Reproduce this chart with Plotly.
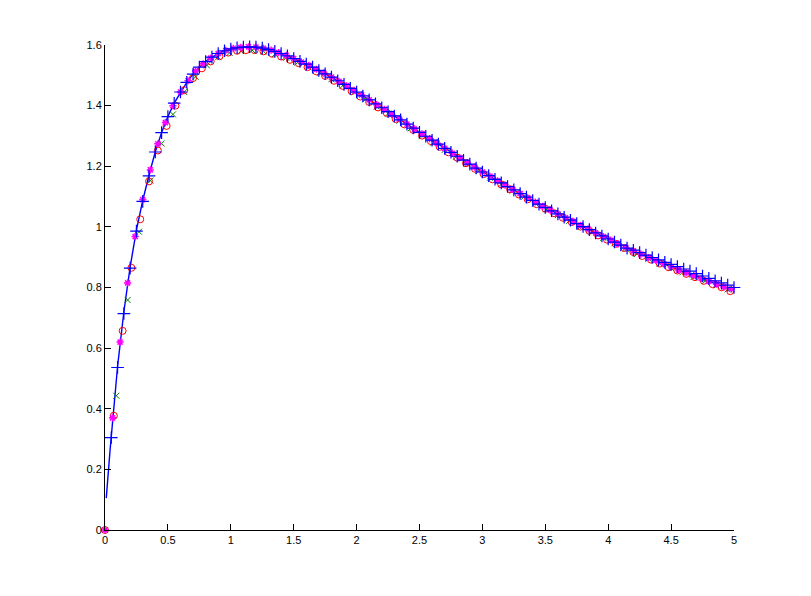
import plotly.graph_objects as go

# ---- x grids ----
blue_x = [0.05, 0.10, 0.15, 0.20, 0.25, 0.30, 0.35, 0.40, 0.45, 0.50,
          0.55, 0.60, 0.65, 0.70, 0.75, 0.80, 0.85, 0.90, 0.95, 1.00,
          1.05, 1.10, 1.15, 1.20, 1.25, 1.30, 1.35, 1.40, 1.45, 1.50,
          1.55, 1.60, 1.65, 1.70, 1.75, 1.80, 1.85, 1.90, 1.95, 2.00,
          2.05, 2.10, 2.15, 2.20, 2.25, 2.30, 2.35, 2.40, 2.45, 2.50,
          2.55, 2.60, 2.65, 2.70, 2.75, 2.80, 2.85, 2.90, 2.95, 3.00,
          3.05, 3.10, 3.15, 3.20, 3.25, 3.30, 3.35, 3.40, 3.45, 3.50,
          3.55, 3.60, 3.65, 3.70, 3.75, 3.80, 3.85, 3.90, 3.95, 4.00,
          4.05, 4.10, 4.15, 4.20, 4.25, 4.30, 4.35, 4.40, 4.45, 4.50,
          4.55, 4.60, 4.65, 4.70, 4.75, 4.80, 4.85, 4.90, 4.95, 5.00]

line_x_start = [0.01, 0.02, 0.03, 0.04]
line_y_start = [0.105, 0.165, 0.215, 0.262]

line_y = [0.308, 0.540, 0.720, 0.868, 0.990, 1.087, 1.171, 1.248, 1.311, 1.364,
          1.408, 1.445, 1.477, 1.504, 1.527, 1.545, 1.560, 1.572, 1.581, 1.587,
          1.591, 1.593, 1.594, 1.593, 1.590, 1.585, 1.579, 1.572, 1.564, 1.555,
          1.546, 1.537, 1.527, 1.516, 1.505, 1.494, 1.482, 1.470, 1.457, 1.445,
          1.432, 1.419, 1.406, 1.393, 1.380, 1.366, 1.353, 1.339, 1.326, 1.312,
          1.299, 1.286, 1.273, 1.259, 1.246, 1.233, 1.220, 1.207, 1.194, 1.181,
          1.169, 1.157, 1.145, 1.133, 1.122, 1.110, 1.098, 1.087, 1.075, 1.064,
          1.053, 1.043, 1.032, 1.022, 1.011, 1.001, 0.991, 0.980, 0.970, 0.960,
          0.950, 0.940, 0.930, 0.921, 0.912, 0.903, 0.894, 0.885, 0.876, 0.868,
          0.860, 0.852, 0.844, 0.836, 0.828, 0.820, 0.812, 0.805, 0.798, 0.790]

plus_y = [0.305, 0.536, 0.714, 0.864, 0.986, 1.084, 1.168, 1.247, 1.311, 1.364,
          1.408, 1.445, 1.477, 1.504, 1.527, 1.545, 1.560, 1.572, 1.581, 1.587,
          1.591, 1.593, 1.594, 1.593, 1.590, 1.585, 1.579, 1.572, 1.564, 1.555,
          1.546, 1.537, 1.527, 1.516, 1.505, 1.494, 1.482, 1.470, 1.457, 1.445,
          1.432, 1.419, 1.406, 1.393, 1.380, 1.366, 1.353, 1.339, 1.326, 1.312,
          1.299, 1.286, 1.273, 1.259, 1.246, 1.233, 1.220, 1.207, 1.194, 1.181,
          1.169, 1.157, 1.145, 1.133, 1.122, 1.110, 1.098, 1.087, 1.075, 1.064,
          1.053, 1.043, 1.032, 1.022, 1.011, 1.001, 0.991, 0.980, 0.970, 0.960,
          0.950, 0.940, 0.930, 0.923, 0.915, 0.907, 0.899, 0.891, 0.883, 0.876,
          0.869, 0.861, 0.854, 0.846, 0.838, 0.830, 0.822, 0.815, 0.808, 0.800]

red_x = [0.00, 0.07, 0.14, 0.21, 0.28, 0.35, 0.42, 0.49, 0.56, 0.63, 0.70,
         0.77, 0.84, 0.91, 0.98, 1.05, 1.12, 1.19, 1.26, 1.33, 1.40,
         1.47, 1.54, 1.61, 1.68, 1.75, 1.82, 1.89, 1.96, 2.03, 2.10,
         2.17, 2.24, 2.31, 2.38, 2.45, 2.52, 2.59, 2.66, 2.73, 2.80,
         2.87, 2.94, 3.01, 3.08, 3.15, 3.22, 3.29, 3.36, 3.43, 3.50,
         3.57, 3.64, 3.71, 3.78, 3.85, 3.92, 3.99, 4.06, 4.13, 4.20,
         4.27, 4.34, 4.41, 4.48, 4.55, 4.62, 4.69, 4.76, 4.83, 4.90, 4.97]
red_y = [0.000, 0.377, 0.657, 0.865, 1.025, 1.150, 1.252, 1.333, 1.400, 1.451, 1.491,
         1.523, 1.546, 1.563, 1.575, 1.581, 1.583, 1.583, 1.579, 1.571, 1.562,
         1.551, 1.540, 1.527, 1.513, 1.498, 1.482, 1.465, 1.448, 1.430, 1.412,
         1.394, 1.376, 1.356, 1.338, 1.320, 1.301, 1.283, 1.264, 1.246, 1.228,
         1.210, 1.192, 1.174, 1.157, 1.140, 1.124, 1.107, 1.091, 1.075, 1.060,
         1.045, 1.030, 1.016, 1.001, 0.987, 0.972, 0.958, 0.944, 0.930, 0.917,
         0.904, 0.892, 0.879, 0.867, 0.856, 0.845, 0.834, 0.822, 0.811, 0.801, 0.788]

mag_x = [0.00, 0.06, 0.12, 0.18, 0.24, 0.30, 0.36, 0.42, 0.48, 0.54, 0.60,
         0.66, 0.72, 0.78, 0.84, 0.90, 0.96, 1.02, 1.08, 1.14, 1.20,
         1.26, 1.32, 1.38, 1.44, 1.50, 1.56, 1.62, 1.68, 1.74, 1.80,
         1.86, 1.92, 1.98, 2.04, 2.10, 2.16, 2.22, 2.28, 2.34, 2.40,
         2.46, 2.52, 2.58, 2.64, 2.70, 2.76, 2.82, 2.88, 2.94, 3.00,
         3.06, 3.12, 3.18, 3.24, 3.30, 3.36, 3.42, 3.48, 3.54, 3.60,
         3.66, 3.72, 3.78, 3.84, 3.90, 3.96, 4.02, 4.08, 4.14, 4.20,
         4.26, 4.32, 4.38, 4.44, 4.50, 4.56, 4.62, 4.68, 4.74, 4.80,
         4.86, 4.92, 4.98]
mag_y = [0.000, 0.370, 0.620, 0.815, 0.968, 1.090, 1.188, 1.274, 1.344, 1.400, 1.445,
         1.482, 1.514, 1.538, 1.557, 1.572, 1.582, 1.589, 1.592, 1.594, 1.593,
         1.589, 1.583, 1.575, 1.566, 1.555, 1.544, 1.533, 1.520, 1.507, 1.494,
         1.480, 1.465, 1.450, 1.435, 1.419, 1.403, 1.388, 1.371, 1.356, 1.339,
         1.323, 1.307, 1.291, 1.276, 1.259, 1.243, 1.228, 1.212, 1.197, 1.181,
         1.167, 1.152, 1.138, 1.124, 1.110, 1.096, 1.082, 1.068, 1.055, 1.043,
         1.030, 1.018, 1.005, 0.993, 0.980, 0.968, 0.956, 0.944, 0.932, 0.921,
         0.910, 0.899, 0.889, 0.878, 0.868, 0.858, 0.849, 0.839, 0.830, 0.820,
         0.811, 0.802, 0.795]

green_x = [0.00, 0.09, 0.18, 0.27, 0.36, 0.45, 0.54, 0.63,
           0.72, 0.81, 0.90, 0.99, 1.08, 1.17, 1.26, 1.35, 1.44, 1.53,
           1.62, 1.71, 1.80, 1.89, 1.98, 2.07, 2.16, 2.25, 2.34, 2.43,
           2.52, 2.61, 2.70, 2.79, 2.88, 2.97, 3.06, 3.15, 3.24, 3.33,
           3.42, 3.51, 3.60, 3.69, 3.78, 3.87, 3.96, 4.05, 4.14, 4.23,
           4.32, 4.41, 4.50, 4.59, 4.68, 4.77, 4.86, 4.95]
green_y = [0.000, 0.443, 0.759, 0.984, 1.153, 1.275, 1.371, 1.445,
           1.495, 1.533, 1.560, 1.574, 1.580, 1.583, 1.579, 1.570, 1.558, 1.542,
           1.526, 1.507, 1.487, 1.466, 1.444, 1.421, 1.397, 1.374, 1.350, 1.325,
           1.302, 1.278, 1.254, 1.231, 1.207, 1.184, 1.162, 1.141, 1.120, 1.099,
           1.078, 1.058, 1.039, 1.020, 1.001, 0.983, 0.964, 0.946, 0.928, 0.911,
           0.895, 0.879, 0.864, 0.850, 0.835, 0.821, 0.807, 0.794]

x_ticks = [0, 0.5, 1, 1.5, 2, 2.5, 3, 3.5, 4, 4.5, 5]
x_tick_text = ["0", "0.5", "1", "1.5", "2", "2.5", "3", "3.5", "4", "4.5", "5"]
y_ticks = [0, 0.2, 0.4, 0.6, 0.8, 1.0, 1.2, 1.4, 1.6]
y_tick_text = ["0", "0.2", "0.4", "0.6", "0.8", "1", "1.2", "1.4", "1.6"]

BLUE = "rgb(0,0,255)"
RED = "rgb(255,0,0)"
GREEN = "rgb(0,128,0)"
MAGENTA = "rgb(255,0,255)"

fig = go.Figure()
fig.add_trace(go.Scatter(x=line_x_start + blue_x, y=line_y_start + line_y, mode="lines",
                         line=dict(color=BLUE, width=1.4), cliponaxis=False))
fig.add_trace(go.Scatter(x=green_x, y=green_y, mode="markers", cliponaxis=False,
                         marker=dict(symbol="x-thin-open", size=6, color=GREEN,
                                     line=dict(color=GREEN, width=1))))
fig.add_trace(go.Scatter(x=red_x, y=red_y, mode="markers", cliponaxis=False,
                         marker=dict(symbol="circle-open", size=7, color=RED,
                                     line=dict(color=RED, width=1))))
fig.add_trace(go.Scatter(x=mag_x, y=mag_y, mode="markers", cliponaxis=False,
                         marker=dict(symbol="asterisk-open", size=6, color=MAGENTA,
                                     line=dict(color=MAGENTA, width=1.5))))
fig.add_trace(go.Scatter(x=blue_x, y=plus_y, mode="markers", cliponaxis=False,
                         marker=dict(symbol="cross-thin-open", size=9, color=BLUE,
                                     line=dict(color=BLUE, width=1.2))))

axis_common = dict(showline=True, linecolor="black", linewidth=1, ticks="inside",
                   ticklen=6, tickwidth=1, tickcolor="black", showgrid=False,
                   zeroline=False, mirror=False,
                   tickfont=dict(family="Liberation Sans, Arial, sans-serif", size=11, color="black"))

# the page body adds an 8px offset, so the figure is sized/margined to compensate
fig.update_layout(
    width=803, height=588,
    margin=dict(l=97, r=77, t=37, b=66),
    plot_bgcolor="white", paper_bgcolor="white",
    showlegend=False,
    xaxis=dict(range=[0, 5], tickvals=x_ticks, ticktext=x_tick_text, **axis_common),
    yaxis=dict(range=[0, 1.6], tickvals=y_ticks, ticktext=y_tick_text, **axis_common),
)

fig.write_html("out.html")
